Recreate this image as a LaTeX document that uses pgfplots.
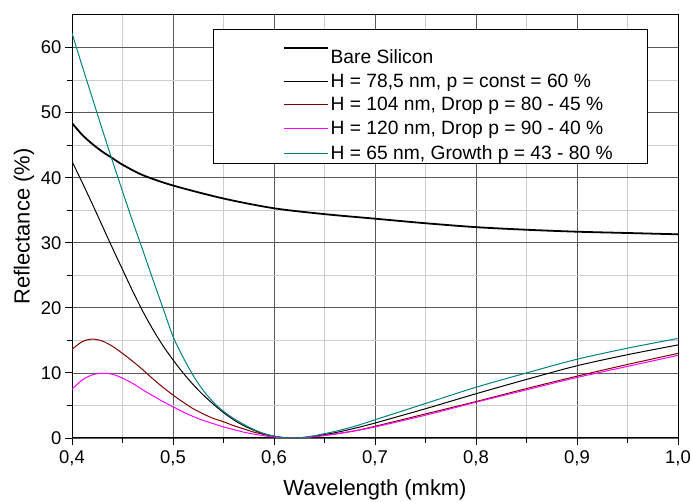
\documentclass[border=0pt]{standalone}
\usepackage{pgfplots}
\pgfplotsset{compat=1.18}
\usepackage{fontspec}
\setmainfont{Liberation Sans}
\definecolor{majgrid}{HTML}{5A5A5A}
\definecolor{mingrid}{HTML}{CDCDCD}
\definecolor{dred}{HTML}{800000}
\definecolor{mag}{HTML}{FF00FF}
\definecolor{teal2}{HTML}{008080}
\begin{document}
\begin{tikzpicture}
\begin{axis}[
  scale only axis,
  width=606bp, height=423bp,
  xmin=0.4, xmax=1.0, ymin=0, ymax=65,
  xtick={0.4,0.5,0.6,0.7,0.8,0.9,1.0},
  ytick={0,10,20,30,40,50,60},
  minor x tick num=1, minor y tick num=1,
  grid=both,
  major grid style={majgrid, line width=0.8pt},
  minor grid style={mingrid, line width=0.8pt},
  axis line style={line width=1pt},
  tick align=outside,
  xtick pos=bottom, ytick pos=left,
  major tick length=7bp, minor tick length=5bp,
  tick style={black, line width=0.9pt},
  /pgf/number format/assume math mode=true,
  /pgf/number format/use comma,
  /pgf/number format/fixed,
  /pgf/number format/fixed zerofill,
  /pgf/number format/precision=1,
  xticklabel style={font=\fontsize{18.5}{21}\selectfont, yshift=-2bp},
  yticklabel style={font=\fontsize{18.5}{21}\selectfont, /pgf/number format/precision=0, /pgf/number format/fixed zerofill=false},
  xlabel={Wavelength (mkm)},
  ylabel={Reflectance (\%)},
  label style={font=\fontsize{22}{25}\selectfont},
  xlabel style={yshift=-7bp},
  legend cell align=left,
  legend style={at={(rel axis cs:0.9488,0.967)}, anchor=north east,
    font=\fontsize{19.3}{22}\selectfont,
    inner xsep=2bp, inner ysep=0.5bp, row sep=5bp},
  legend image code/.code={\path (-68bp,0bp); \draw[#1] (0bp,0bp) -- (44bp,0bp);},
]
\addplot[black, line width=1.8pt, smooth] coordinates {
(0.40,48.4)(0.41,46.6)(0.42,45.2)(0.43,44.0)(0.44,43.0)(0.45,42.0)(0.47,40.4)(0.50,38.8)(0.55,36.8)(0.60,35.3)(0.65,34.4)(0.70,33.7)(0.75,33.0)(0.80,32.4)(0.85,32.0)(0.90,31.7)(0.95,31.5)(1.00,31.3)};
\addlegendentry{\rule{0pt}{31.5bp}Bare Silicon}
\addplot[black, line width=1pt, smooth] coordinates {
(0.40,42.5)(0.41,39.3)(0.42,36.0)(0.43,32.6)(0.44,29.2)(0.45,25.9)(0.46,22.6)(0.47,19.5)(0.48,16.7)(0.49,14.2)(0.50,12.0)(0.51,10.0)(0.52,8.2)(0.53,6.6)(0.54,5.2)(0.55,3.9)(0.56,2.8)(0.57,1.9)(0.58,1.2)(0.59,0.6)(0.60,0.25)(0.61,0.05)(0.62,0.0)(0.63,0.1)(0.64,0.3)(0.66,0.8)(0.68,1.5)(0.70,2.3)(0.75,4.5)(0.80,6.8)(0.85,9.0)(0.90,11.1)(0.95,12.8)(1.00,14.3)};
\addlegendentry{H = 78,5 nm, p = const = 60 \%}
\addplot[dred, line width=1pt, smooth] coordinates {
(0.40,13.6)(0.41,14.8)(0.42,15.2)(0.43,14.9)(0.44,14.1)(0.45,13.0)(0.46,11.8)(0.47,10.5)(0.48,9.1)(0.49,7.8)(0.50,6.6)(0.51,5.5)(0.52,4.5)(0.53,3.7)(0.54,3.0)(0.55,2.5)(0.56,1.9)(0.57,1.4)(0.58,0.9)(0.59,0.55)(0.60,0.25)(0.61,0.05)(0.62,0.0)(0.63,0.05)(0.64,0.2)(0.66,0.6)(0.68,1.1)(0.70,1.8)(0.75,3.7)(0.80,5.6)(0.85,7.6)(0.90,9.5)(0.95,11.3)(1.00,13.0)};
\addlegendentry{H = 104 nm, Drop p = 80 - 45 \%}
\addplot[mag, line width=1pt, smooth] coordinates {
(0.40,7.5)(0.41,8.9)(0.42,9.7)(0.43,9.95)(0.44,9.8)(0.45,9.2)(0.46,8.4)(0.47,7.4)(0.48,6.5)(0.49,5.6)(0.50,4.8)(0.51,4.0)(0.52,3.3)(0.53,2.7)(0.54,2.2)(0.55,1.7)(0.56,1.3)(0.57,0.9)(0.58,0.6)(0.59,0.35)(0.60,0.15)(0.61,0.03)(0.62,0.0)(0.63,0.05)(0.64,0.2)(0.66,0.6)(0.68,1.1)(0.70,1.7)(0.75,3.5)(0.80,5.5)(0.85,7.4)(0.90,9.3)(0.95,11.0)(1.00,12.7)};
\addlegendentry{H = 120 nm, Drop p = 90 - 40 \%}
\addplot[teal2, line width=1pt, smooth] coordinates {
(0.40,62.2)(0.41,57.2)(0.42,52.3)(0.43,47.4)(0.44,42.6)(0.45,37.9)(0.46,33.3)(0.47,28.9)(0.48,24.4)(0.49,20.0)(0.50,15.6)(0.51,12.4)(0.52,9.6)(0.53,7.3)(0.54,5.5)(0.55,4.1)(0.56,3.0)(0.57,2.1)(0.58,1.3)(0.59,0.7)(0.60,0.3)(0.61,0.06)(0.62,0.0)(0.63,0.1)(0.64,0.35)(0.66,1.0)(0.68,1.8)(0.70,2.8)(0.75,5.3)(0.80,7.8)(0.85,10.0)(0.90,12.1)(0.95,13.8)(1.00,15.3)};
\addlegendentry{\raisebox{0pt}[\height][0pt]{H = 65 nm, Growth p = 43 - 80 \%\hspace*{30bp}}}
\end{axis}
\pgfresetboundingbox
\path (current axis.south west) ++(-72bp,-64bp) coordinate (bbA);
\path (current axis.north east) ++(13bp,15bp) coordinate (bbB);
\useasboundingbox (bbA) rectangle (bbB);
\end{tikzpicture}
\end{document}
